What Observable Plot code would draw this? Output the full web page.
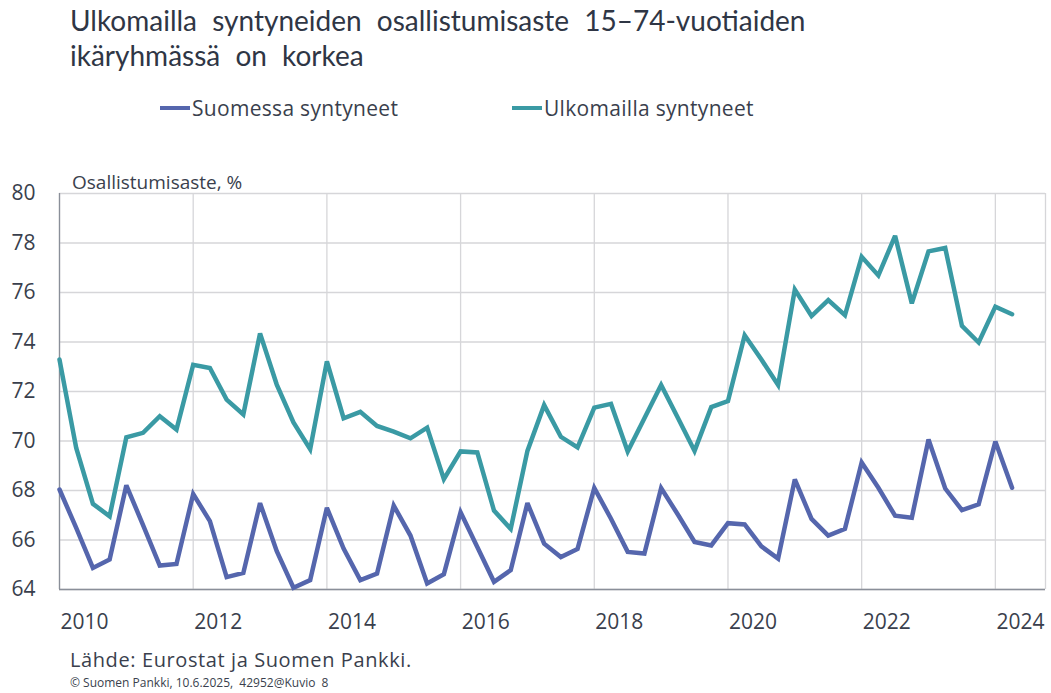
<!DOCTYPE html>
<html>
<head>
<meta charset="utf-8">
<script src="https://cdn.jsdelivr.net/npm/d3@7"></script>
<script src="https://cdn.jsdelivr.net/npm/@observablehq/plot@0.6"></script>
<style>
  html, body { margin: 0; padding: 0; background: #fff; }
  #wrap { position: relative; width: 1051px; height: 693px; overflow: hidden; font-family: "Open Sans", sans-serif; color: #3a3f4d; }
  .abs { position: absolute; white-space: nowrap; }
  #title { left: 70px; top: 3px; font-family: Lato, sans-serif; font-weight: 400; font-size: 28px; line-height: 35px; color: #2f3645; word-spacing: 8px; }
  .leg { top: 94px; font-size: 21px; letter-spacing: 0.3px; display: flex; align-items: center; }
  .leg span.sw { display: inline-block; width: 30px; height: 4px; margin-right: 2px; }
  #ylab { left: 72px; top: 169px; font-size: 19px; }
  #src { left: 70px; top: 646px; font-size: 20px; letter-spacing: 0.6px; }
  #copy { left: 70px; top: 674px; font-size: 12px; }
  #chart { position: absolute; left: 0; top: 150px; }
</style>
</head>
<body>
<div id="wrap">
  <div id="title" class="abs">Ulkomailla syntyneiden osallistumisaste 15–74-vuotiaiden<br>ikäryhmässä on korkea</div>
  <div class="abs leg" style="left:160px"><span class="sw" style="background:#5566ad"></span>Suomessa syntyneet</div>
  <div class="abs leg" style="left:512px"><span class="sw" style="background:#3a9aa4"></span>Ulkomailla syntyneet</div>
  <div id="ylab" class="abs">Osallistumisaste, %</div>
  <div id="chart"></div>
  <div id="src" class="abs">Lähde: Eurostat ja Suomen Pankki.</div>
  <div id="copy" class="abs">© Suomen Pankki, 10.6.2025,&nbsp; 42952@Kuvio&nbsp; 8</div>
</div>
<script>
// Quarterly observations, 2010Q1 ... 2024Q2
const quarters = [];
for (let y = 2010; y <= 2024; y++) for (let q = 1; q <= 4; q++) quarters.push(y + "Q" + q);
quarters.length = 58;

const suomessa = [
  68.04, 66.49, 64.87, 65.21, 68.21, 66.60, 64.97, 65.03,
  67.86, 66.76, 64.50, 64.67, 67.49, 65.55, 64.07, 64.38,
  67.30, 65.65, 64.38, 64.64, 67.39, 66.18, 64.24, 64.62,
  67.12, 65.72, 64.31, 64.78, 67.49, 65.85, 65.31, 65.64,
  68.10, 66.86, 65.52, 65.45, 68.10, 67.03, 65.92, 65.78,
  66.68, 66.63, 65.74, 65.25, 68.45, 66.85, 66.18, 66.45,
  69.13, 68.11, 66.98, 66.90, 70.06, 68.08, 67.21, 67.44,
  69.98, 68.11
];
const ulkomailla = [
  73.29, 69.72, 67.46, 66.96, 70.15, 70.33, 71.00, 70.46,
  73.08, 72.95, 71.67, 71.07, 74.35, 72.28, 70.75, 69.67,
  73.22, 70.92, 71.18, 70.61, 70.38, 70.11, 70.54, 68.46,
  69.58, 69.54, 67.19, 66.45, 69.60, 71.45, 70.17, 69.74,
  71.35, 71.50, 69.58, 70.92, 72.26, 70.94, 69.60, 71.37,
  71.61, 74.27, 73.29, 72.26, 76.12, 75.05, 75.69, 75.08,
  77.44, 76.69, 78.29, 75.56, 77.66, 77.80, 74.65, 73.98,
  75.43, 75.12
];
const yearLabels = ["2010", "2012", "2014", "2016", "2018", "2020", "2022", "2024"];
const yTicks = [64, 66, 68, 70, 72, 74, 76, 78, 80];

const seriesNames = ["Suomessa syntyneet", "Ulkomailla syntyneet"];
const colors = ["#5566ad", "#3a9aa4"];

const data = [];
quarters.forEach((q, i) => {
  data.push({i, q, s: seriesNames[0], v: suomessa[i]});
  data.push({i, q, s: seriesNames[1], v: ulkomailla[i]});
});
// gridlines at the first quarter of each labelled year; labels centred on that year
const gridIdx = yearLabels.map(y => quarters.indexOf(y + "Q1"));
const labelPos = gridIdx.map(i => i + 1.5);
const labelMap = new Map(labelPos.map((p, k) => [p, yearLabels[k]]));

const chart = Plot.plot({
  width: 1051,
  height: 490,
  marginLeft: 59,
  marginRight: 6,
  marginTop: 43,
  marginBottom: 51,
  style: {fontFamily: "Open Sans, sans-serif", fontSize: "20px", color: "#3a3f4d", background: "transparent"},
  x: {domain: [0, 59], axis: null, label: null},
  y: {domain: [64, 80], axis: null, label: null},
  color: {domain: seriesNames, range: colors},
  marks: [
    Plot.gridX(gridIdx, {stroke: "#d6d6d9", strokeOpacity: 1, strokeWidth: 1.3}),
    Plot.ruleX([59], {stroke: "#d6d6d9", strokeWidth: 1.3}),
    Plot.gridY(yTicks, {stroke: "#d6d6d9", strokeOpacity: 1, strokeWidth: 1.3}),
    Plot.ruleX([0], {stroke: "#8a8f99", strokeWidth: 1.3}),
    Plot.ruleY([64], {stroke: "#8a8f99", strokeWidth: 1.3}),
    Plot.line(data, {x: "i", y: "v", z: "s", stroke: "s", strokeWidth: 4.5, strokeLinejoin: "miter", strokeMiterlimit: 3}),
    Plot.axisY(yTicks, {tickSize: 0, tickPadding: 24, fontSize: 21, label: null, tickFormat: d => String(d)}),
    Plot.axisX(labelPos, {tickSize: 0, tickPadding: 25, fontSize: 21, label: null, tickFormat: d => labelMap.get(d)})
  ]
});
document.getElementById("chart").appendChild(chart);
</script>
</body>
</html>
